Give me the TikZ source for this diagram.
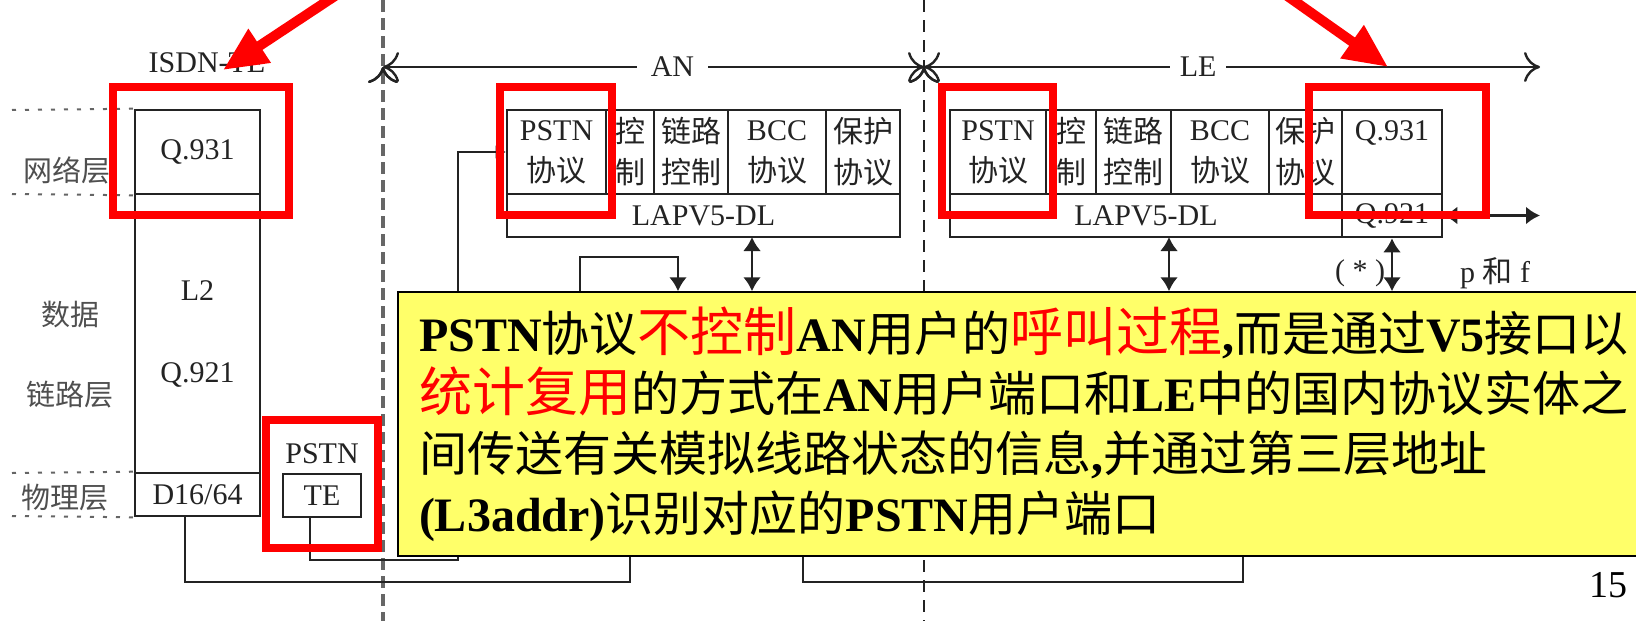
\documentclass[tikz,border=0pt]{standalone}
\usepackage{fontspec}
\setmainfont{Liberation Serif}
\newfontfamily\cjk{Noto Sans CJK SC}
\usepackage{xcolor}
\usepackage{tikz}
\usetikzlibrary{arrows.meta}
\usetikzlibrary{positioning}
\definecolor{notebg}{RGB}{255,255,105}
\definecolor{ink}{RGB}{35,35,35}
\newcommand{\zh}[1]{{\cjk\mdseries #1}}
\newcommand{\hot}[1]{{\color{red}\cjk\mdseries\fontsize{53}{60}\selectfont #1}}
\tikzstyle{cell}=[draw,ink,line width=2.6pt,inner sep=0,align=center,text=ink,font=\fontsize{30}{41}\selectfont]
\tikzstyle{lbl}=[text=ink,inner sep=0,font=\fontsize{30}{36}\selectfont]
\tikzstyle{sidelbl}=[text=ink!80,inner sep=0,font=\cjk\fontsize{29}{36}\selectfont]
\tikzstyle{guide}=[draw,ink!70,line width=2pt,dash pattern=on 4pt off 9pt]
\tikzstyle{link}=[draw,ink,line width=2.6pt]
\tikzstyle{feed}=[link,arrows={-Latex[length=14pt,width=18pt]}]
\tikzstyle{dbl}=[link,arrows={Latex[length=14pt,width=18pt]-Latex[length=14pt,width=18pt]}]
\tikzstyle{dimline}=[link,line width=2.4pt,arrows={To[length=16pt,width=30pt]-To[length=16pt,width=30pt]}]
\tikzstyle{sepA}=[draw,black!60,line width=3.5pt,dash pattern=on 12pt off 6pt]
\tikzstyle{sepB}=[draw,ink,line width=2.2pt,dash pattern=on 12pt off 8pt]
\tikzstyle{hilite}=[draw,red,line width=8pt]
\tikzstyle{pointer}=[draw,red,line width=10pt,arrows={-Triangle[length=44pt,width=38pt]}]
\tikzstyle{note}=[draw,black,line width=1.5pt,fill=notebg,align=left,inner xsep=21pt,inner ysep=0pt,text width=1200pt,minimum height=264pt,font=\bfseries\fontsize{48}{60}\selectfont]

\begin{document}
\begin{tikzpicture}[x=1pt,y=-1pt]
\useasboundingbox (0,0) rectangle (1636,621);

	\draw[sepA] (383,0) -- (383,621);
	\draw[sepB] (924,0) -- (924,621);

	\node[lbl] (isdn) at (207,63) {ISDN-TE};
	\node[cell,minimum width=125pt,minimum height=84pt] (iq931) at (197.5,152) {Q.931};
	\node[cell,minimum width=125pt,minimum height=279pt,font=\fontsize{30}{82}\selectfont] (il2) at (197.5,333.5) {L2\\Q.921};
	\node[cell,minimum width=125pt,minimum height=43pt] (id16) at (197.5,494.5) {D16/64};

	\node[sidelbl] (lnet) at (67,170) {网络层};
	\node[sidelbl] (ldat) at (70,315) {数据};
	\node[sidelbl] (llink) at (70,395) {链路层};
	\node[sidelbl] (lphy) at (65,498) {物理层};

	\path[guide] (12,110) -- (iq931.north west);
	\path[guide] (12,194) -- (iq931.south west);
	\path[guide] (12,473) -- (id16.north west);
	\path[guide] (12,516) -- (id16.south west);

	\node[cell,minimum width=78pt,minimum height=43pt] (pte) at (322,495.5) {TE};
	\node[lbl,above=9pt of pte] (ptel) {PSTN};

	\coordinate (spanL) at (383,67);
	\coordinate (spanM) at (924,67);
	\coordinate (spanR) at (1540,67);
	\path[dimline] (spanL) edge 
	node [pos=.535,lbl,fill=white,inner xsep=14pt] {AN} (spanM);
	\path[dimline] (spanM) edge 
	node [pos=.445,lbl,fill=white,inner xsep=10pt] {LE} (spanR);

	\node[cell,minimum width=99pt,minimum height=84pt] (an1) at (556.5,152) {PSTN\\\zh{协议}};
	\node[cell,minimum width=48pt,minimum height=84pt] (an2) at (630,152) {\zh{控}\\\zh{制}};
	\node[cell,minimum width=74pt,minimum height=84pt] (an3) at (691,152) {\zh{链路}\\\zh{控制}};
	\node[cell,minimum width=98pt,minimum height=84pt] (an4) at (777,152) {BCC\\\zh{协议}};
	\node[cell,minimum width=74pt,minimum height=84pt] (an5) at (863,152) {\zh{保护}\\\zh{协议}};
	\node[cell,minimum width=393pt,minimum height=43pt] (anlap) at (703.5,215.5) {LAPV5-DL};

	\node[cell,minimum width=96pt,minimum height=84pt] (le1) at (998,152) {PSTN\\\zh{协议}};
	\node[cell,minimum width=50pt,minimum height=84pt] (le2) at (1071,152) {\zh{控}\\\zh{制}};
	\node[cell,minimum width=75pt,minimum height=84pt] (le3) at (1133.5,152) {\zh{链路}\\\zh{控制}};
	\node[cell,minimum width=98pt,minimum height=84pt] (le4) at (1220,152) {BCC\\\zh{协议}};
	\node[cell,minimum width=73pt,minimum height=84pt] (le5) at (1305.5,152) {\zh{保护}\\\zh{协议}};
	\node[cell,minimum width=100pt,minimum height=84pt] (le6) at (1392,152) {Q.931\\\phantom{\zh{协议}}};
	\node[cell,minimum width=392pt,minimum height=43pt] (lelap) at (1146,215.5) {LAPV5-DL};
	\node[cell,minimum width=100pt,minimum height=43pt] (leq921) at (1392,215.5) {Q.921};

	\node[lbl] (star) at (1360,273) {( * )};
	\node[lbl] (pf) at (1495,273) {p \zh{和} f};

	\draw[dbl] (leq921.east) -- (leq921.east -| spanR);

	\coordinate (teBend) at (458,560);
	\draw[link,arrows={-Latex[length=10pt,width=14pt]}] ([xshift=-12pt]pte.south) |- (teBend) |- (an1.west);
	\coordinate (dBend) at (630,582);
	\coordinate (lpL) at (580,257);
	\coordinate (lpR) at (678,257);
	\coordinate (brL) at (803,582);
	\coordinate (brR) at (1243,582);
	\coordinate (anV) at (752,237);
	\coordinate (leV) at (1169,237);

	\node[note] (note) at (1019,424) {%
PSTN\zh{协议}\hot{不控制}AN\zh{用户的}\hot{呼叫过程},\zh{而是通过}V5\zh{接口以}\\%
\hot{统计复用}\zh{的方式在}AN\zh{用户端口和}LE\zh{中的国内协议实体之}\\%
\zh{间传送有关模拟线路状态的信息},\zh{并通过第三层地址}\\%
(L3addr)\zh{识别对应的}PSTN\zh{用户端口}};

	\draw[link] ([xshift=-12.5pt]id16.south) |- (dBend) -- (dBend |- note.south);
	\draw[link] (brL |- note.south) -- (brL) -- (brR) -- (brR |- note.south);
	\draw[feed] (lpL |- note.north) -- (lpL) -- (lpR) -- (lpR |- note.north);
	\draw[dbl] (anV) -- (anV |- note.north);
	\draw[dbl] (leV) -- (leV |- note.north);
	\draw[dbl] (leq921.south) -- (leq921.south |- note.north);

	\node[lbl,text=black,font=\fontsize{38}{40}\selectfont] (pg) at (1608,585) {15};

	\draw[hilite] (113,87) rectangle (289,215);
	\draw[hilite] (266,420) rectangle (378,548);
	\draw[hilite] (500,87) rectangle (612,215);
	\draw[hilite] (942,87) rectangle (1053,215);
	\draw[hilite] (1309,87) rectangle (1486,215);

	\coordinate (srcA) at (347,-12);
	\coordinate (tipA) at (223,70);
	\coordinate (srcB) at (1276,-12);
	\coordinate (tipB) at (1388,67);
	\draw[pointer] (srcA) -- (tipA);
	\draw[pointer] (srcB) -- (tipB);
\end{tikzpicture}
\end{document}
